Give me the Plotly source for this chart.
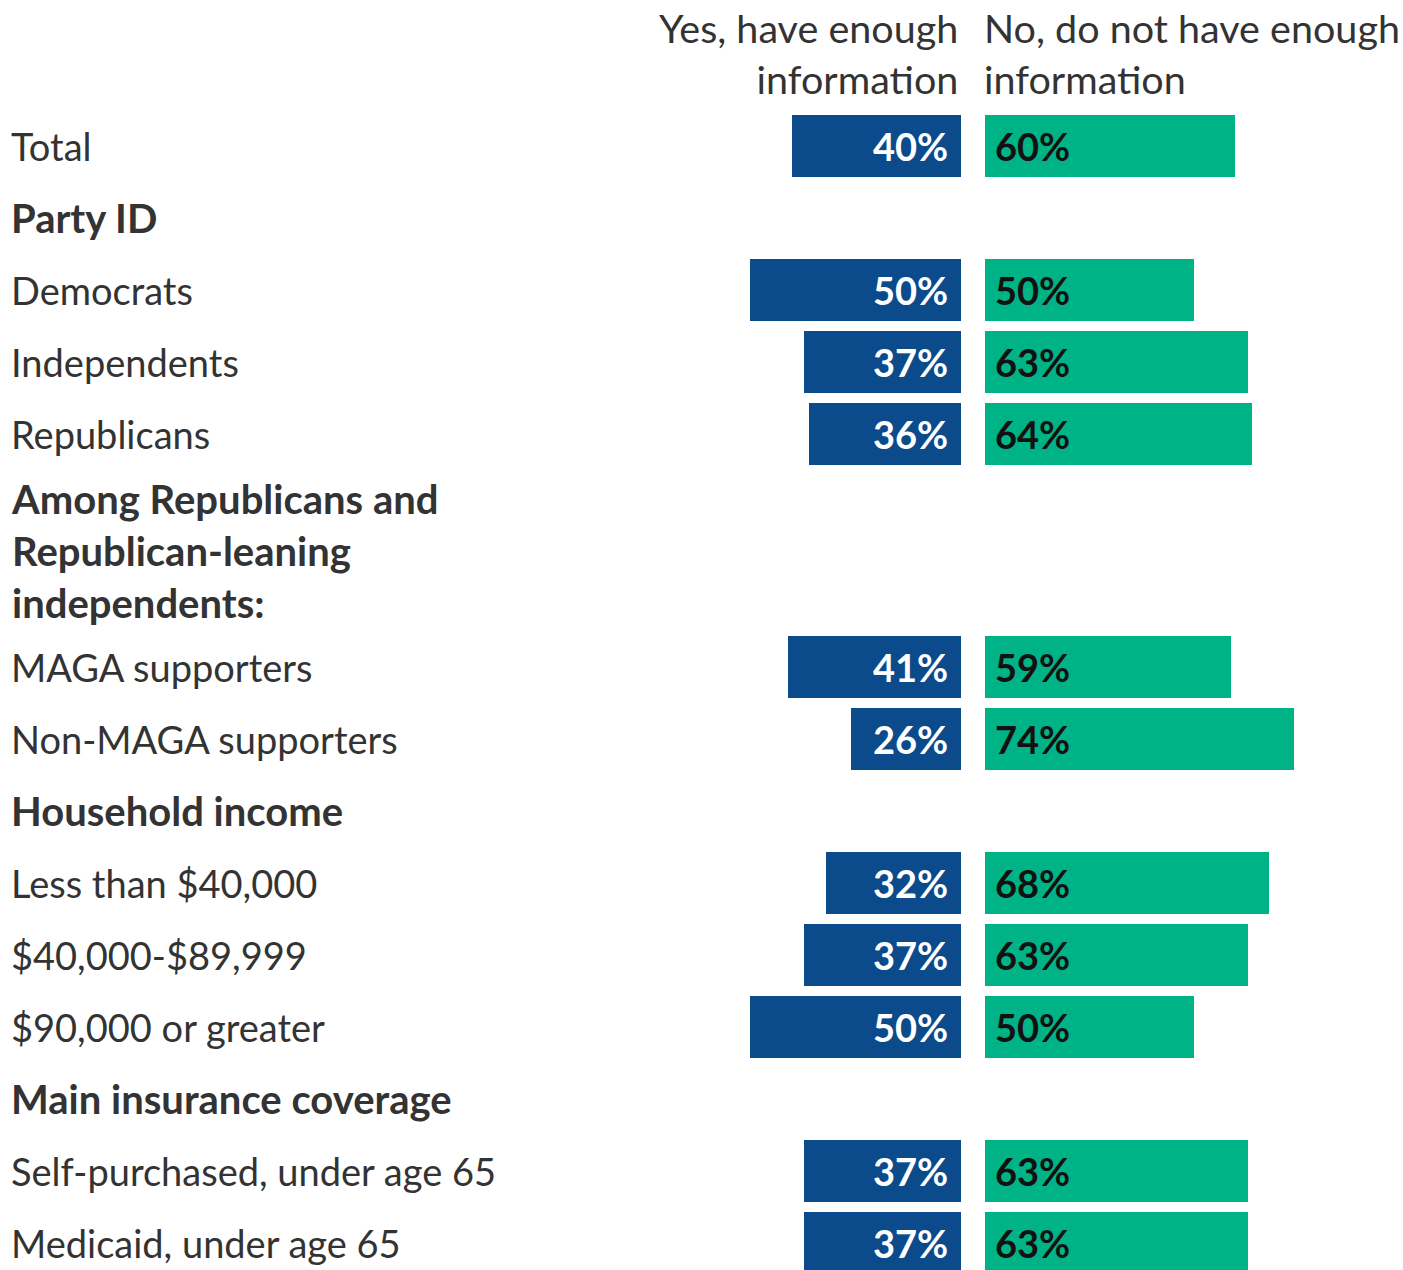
import plotly.graph_objects as go

# Survey rows: (label, kind). Headers have no bars.
rows = [
    ("Total", "bar"),
    ("Party ID", "header"),
    ("Democrats", "bar"),
    ("Independents", "bar"),
    ("Republicans", "bar"),
    ("Among Republicans and<br>Republican-leaning<br>independents:", "header"),
    ("MAGA supporters", "bar"),
    ("Non-MAGA supporters", "bar"),
    ("Household income", "header"),
    ("Less than $40,000", "bar"),
    ("$40,000-$89,999", "bar"),
    ("$90,000 or greater", "bar"),
    ("Main insurance coverage", "header"),
    ("Self-purchased, under age 65", "bar"),
    ("Medicaid, under age 65", "bar"),
]

yes_enough = [40, 50, 37, 36, 41, 26, 32, 37, 50, 37, 37]
no_enough = [60, 50, 63, 64, 59, 74, 68, 63, 50, 63, 63]

col_yes = "Yes, have enough<br>information"
col_no = "No, do not have enough<br>information"

BLUE = "#0b4a8b"
GREEN = "#00b386"
TEXT = "#333333"
FONT = "Source Sans Pro, Lato, sans-serif"
W, H = 1403, 1270

# Vertical layout: y axis runs in pixel units from the top
STEP = 72
EXTRA_LINE = 44.5
FIRST = 146
pos = []
y = FIRST
prev_extra = 0
for i, (lab, kind) in enumerate(rows):
    extra = lab.count("<br>") * EXTRA_LINE
    if i > 0:
        y += STEP + prev_extra / 2 + extra / 2
    pos.append(y)
    prev_extra = extra

bar_y = [p for p, r in zip(pos, rows) if r[1] == "bar"]

fig = go.Figure()
fig.add_trace(go.Bar(
    x=yes_enough, y=bar_y, orientation="h", width=62,
    marker=dict(color=BLUE, line_width=0),
    xaxis="x", yaxis="y", hoverinfo="skip",
))
fig.add_trace(go.Bar(
    x=no_enough, y=bar_y, orientation="h", width=62,
    marker=dict(color=GREEN, line_width=0),
    xaxis="x2", yaxis="y", hoverinfo="skip",
))

# Value labels sit just inside each bar's base
for yy, v in zip(bar_y, yes_enough):
    fig.add_annotation(x=0, xref="x", y=yy, yref="y", text=f"<b>{v}%</b>",
                       xanchor="right", yanchor="middle", xshift=-11, showarrow=False,
                       font=dict(size=38, color="white", family=FONT))
for yy, v in zip(bar_y, no_enough):
    fig.add_annotation(x=0, xref="x2", y=yy, yref="y", text=f"<b>{v}%</b>",
                       xanchor="left", yanchor="middle", xshift=8, showarrow=False,
                       font=dict(size=38, color="#111111", family=FONT))

# Blue column ends at its base on the right; green column starts after a small gap
blue_right = 961 / W
green_left = 985 / W
px_per_pct_blue = 4.23
px_per_pct_green = 4.17
fig.update_layout(
    xaxis=dict(domain=[blue_right - 100 * px_per_pct_blue / W, blue_right],
               range=[100, 0], visible=False, fixedrange=True),
    xaxis2=dict(domain=[green_left, green_left + 99 * px_per_pct_green / W],
                range=[0, 99], visible=False, fixedrange=True, anchor="y"),
    yaxis=dict(domain=[0, 1], range=[H, 0], visible=False, fixedrange=True),
    width=W, height=H, margin=dict(l=0, r=0, t=0, b=0),
    plot_bgcolor="white", paper_bgcolor="white",
    showlegend=False, bargap=0,
)

# Row labels on the left
for p, (lab, kind) in zip(pos, rows):
    if kind == "header":
        txt, size = f"<b>{lab}</b>", 40
    else:
        txt, size = lab, 38
    fig.add_annotation(
        x=9 / W, xref="paper", y=p, yref="y", text=txt,
        xanchor="left", yanchor="middle", align="left", showarrow=False,
        font=dict(size=size, color=TEXT, family=FONT),
    )

# Column headers
fig.add_annotation(x=960 / W, xref="paper", y=53, yref="y", text=col_yes,
                   xanchor="right", yanchor="middle", align="right", showarrow=False,
                   font=dict(size=39.5, color=TEXT, family=FONT))
fig.add_annotation(x=982 / W, xref="paper", y=53, yref="y", text=col_no,
                   xanchor="left", yanchor="middle", align="left", showarrow=False,
                   font=dict(size=39.5, color=TEXT, family=FONT))

fig.write_html("out.html")
